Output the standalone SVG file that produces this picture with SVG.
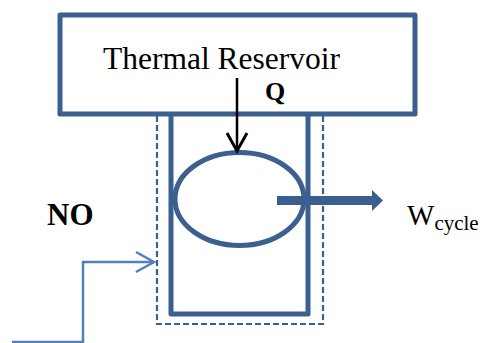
<svg xmlns="http://www.w3.org/2000/svg" width="482" height="343" viewBox="0 0 482 343">
<defs>
<style>
.main{fill:none;stroke:#3B5F8E;stroke-width:5;stroke-linejoin:round}
.dash{fill:none;stroke:#3B5F8E;stroke-width:2.2;stroke-dasharray:6 3}
.t{font-family:"Liberation Serif","Times New Roman",serif;fill:#000}
.b{font-weight:bold}
</style>
<marker id="openBlack" markerUnits="userSpaceOnUse" markerWidth="24" markerHeight="24" refX="20" refY="12" orient="auto" viewBox="0 0 24 24">
<path d="M2 2 L20 12 L2 22" fill="none" stroke="#000" stroke-width="3"/>
</marker>
<marker id="openBlue" markerUnits="userSpaceOnUse" markerWidth="24" markerHeight="24" refX="20" refY="12" orient="auto" viewBox="0 0 24 24">
<path d="M2 2 L20 12 L2 22" fill="none" stroke="#4F81BD" stroke-width="2.5"/>
</marker>
</defs>
<g id="reservoir">
<rect class="main" x="60" y="15" width="355" height="99"/>
<text class="t" x="103" y="69" font-size="31.5">Thermal Reservoir</text>
</g>
<g id="system-boundary">
<path class="dash" d="M157 116 V324 H323 V116"/>
</g>
<g id="system">
<path class="main" d="M171 114 V314 H308 V114"/>
<ellipse class="main" cx="239.5" cy="199" rx="64.5" ry="46.5"/>
</g>
<g id="connectors">
<line x1="237" y1="78" x2="237" y2="151" stroke="#000" stroke-width="2.5" marker-end="url(#openBlack)"/>
<path d="M277 200.5 H373" stroke="#3B5F8E" stroke-width="9" fill="none"/>
<path d="M372 190 L383 200.5 L372 211 Z" fill="#3B5F8E"/>
<path d="M12 342 H83 V262 H154" fill="none" stroke="#4F81BD" stroke-width="2.5" marker-end="url(#openBlue)"/>
</g>
<g id="labels">
<text class="t b" x="265" y="100" font-size="26">Q</text>
<text class="t b" x="47" y="225" font-size="31">NO</text>
<text class="t" x="407" y="225" font-size="29">W<tspan font-size="21" dy="5">cycle</tspan></text>
</g>
</svg>
